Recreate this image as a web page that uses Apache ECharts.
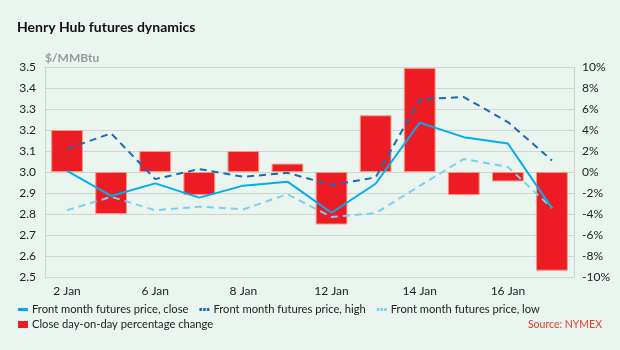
<!DOCTYPE html>
<html>
<head>
<meta charset="utf-8">
<script src="https://cdn.jsdelivr.net/npm/echarts@6/dist/echarts.min.js"></script>
<style>
  html, body { margin: 0; padding: 0; background: #ebf5ef; }
  #chart { width: 620px; height: 350px; }
</style>
</head>
<body>
<div id="chart"></div>
<script>
// trading days
const days = ['2 Jan', '5 Jan', '6 Jan', '7 Jan', '8 Jan', '9 Jan', '12 Jan', '13 Jan', '14 Jan', '15 Jan', '16 Jan', '20 Jan']
// $/MMBtu
const closePrice = [3.005, 2.886, 2.946, 2.878, 2.935, 2.954, 2.806, 2.944, 3.235, 3.166, 3.136, 2.828]
const highPrice = [3.11, 3.184, 2.966, 3.014, 2.977, 2.996, 2.938, 2.974, 3.346, 3.357, 3.238, 3.055]
const lowPrice = [2.818, 2.882, 2.818, 2.835, 2.822, 2.894, 2.786, 2.804, 2.934, 3.062, 3.024, 2.828]
// close day-on-day change, %
const pctChange = [4.0, -4.0, 2.0, -2.2, 2.0, 0.8, -5.0, 5.4, 9.9, -2.2, -0.9, -9.4]

const font = 'Lato'
const gridColor = '#cdd6d1'

const dashIcon = 'path://M0,0h2.6v3h-2.6z M3.7,0h2.6v3h-2.6z M7.4,0h2.6v3h-2.6z'

const option = {
  backgroundColor: '#ebf5ef',
  textStyle: { fontFamily: font },
  title: [
    {
      text: 'Henry Hub futures dynamics',
      left: 17,
      top: 20,
      padding: 0,
      textStyle: { fontSize: 14, fontWeight: 'bold', color: '#111', fontFamily: font }
    },
    {
      text: 'Source: NYMEX',
      right: 18,
      top: 319,
      padding: 0,
      textStyle: { fontSize: 10.5, fontWeight: 'normal', color: '#e8392a', fontFamily: font }
    }
  ],
  legend: [
    {
      left: 18,
      top: 304,
      padding: 0,
      itemWidth: 10,
      itemHeight: 3,
      itemGap: 11,
      textStyle: { fontSize: 11.2, color: '#222', fontFamily: font, padding: [0, 0, 0, -1] },
      data: [
        { name: 'Front month futures price, close', icon: 'rect' },
        { name: 'Front month futures price, high', icon: dashIcon },
        { name: 'Front month futures price, low', icon: dashIcon }
      ]
    },
    {
      left: 18,
      top: 319,
      padding: 0,
      itemWidth: 10,
      itemHeight: 7,
      textStyle: { fontSize: 11.2, color: '#222', fontFamily: font, padding: [0, 0, 0, -1] },
      data: [{ name: 'Close day-on-day percentage change', icon: 'rect', itemStyle: { borderWidth: 0 } }]
    }
  ],
  grid: {
    left: 45,
    right: 46,
    top: 67,
    bottom: 73
  },
  xAxis: {
    type: 'category',
    data: days,
    axisTick: { show: false },
    axisLine: { lineStyle: { color: gridColor } },
    axisLabel: { interval: 1, color: '#222', fontSize: 12, margin: 8 }
  },
  yAxis: [
    {
      type: 'value',
      min: 2.5,
      max: 3.5,
      interval: 0.1,
      name: '$/MMBtu',
      nameLocation: 'end',
      nameGap: 9,
      nameTextStyle: { align: 'left', verticalAlign: 'middle', color: '#9a9a9a', fontWeight: 'bold', fontSize: 12 },
      axisLine: { show: true, lineStyle: { color: gridColor } },
      axisTick: { show: false },
      splitLine: { lineStyle: { color: gridColor } },
      axisLabel: {
        color: '#222',
        fontSize: 12,
        margin: 9,
        formatter: v => v.toFixed(1)
      }
    },
    {
      type: 'value',
      min: -10,
      max: 10,
      interval: 2,
      axisLine: { show: true, lineStyle: { color: gridColor } },
      axisTick: { show: false },
      splitLine: { show: false },
      axisLabel: {
        color: '#222',
        fontSize: 12,
        margin: 8,
        formatter: v => v + '%'
      }
    }
  ],
  series: [
    {
      name: 'Close day-on-day percentage change',
      type: 'bar',
      yAxisIndex: 1,
      data: pctChange,
      barWidth: '72%',
      itemStyle: { color: '#ed1c24', borderColor: '#f39a7a', borderWidth: 1 },
      z: 1
    },
    {
      name: 'Front month futures price, close',
      type: 'line',
      data: closePrice,
      symbol: 'none',
      lineStyle: { color: '#00aeef', width: 2 },
      itemStyle: { color: '#00aeef' },
      z: 4
    },
    {
      name: 'Front month futures price, high',
      type: 'line',
      data: highPrice,
      symbol: 'none',
      lineStyle: { color: '#1a6db5', width: 2, type: [7, 5] },
      itemStyle: { color: '#1a6db5' },
      z: 3
    },
    {
      name: 'Front month futures price, low',
      type: 'line',
      data: lowPrice,
      symbol: 'none',
      lineStyle: { color: '#7dcff2', width: 2, type: [7, 5] },
      itemStyle: { color: '#7dcff2' },
      z: 3
    }
  ]
}

const myChart = echarts.init(document.getElementById('chart'))
myChart.setOption(option)
</script>
</body>
</html>
